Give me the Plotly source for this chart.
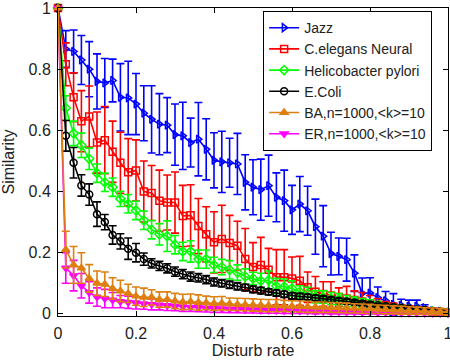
import plotly.graph_objects as go

x = [0.0, 0.02, 0.04, 0.06, 0.08, 0.10, 0.12, 0.14, 0.16, 0.18,
     0.20, 0.22, 0.24, 0.26, 0.28, 0.30, 0.32, 0.34, 0.36, 0.38,
     0.40, 0.42, 0.44, 0.46, 0.48, 0.50, 0.52, 0.54, 0.56, 0.58,
     0.60, 0.62, 0.64, 0.66, 0.68, 0.70, 0.72, 0.74, 0.76, 0.78,
     0.80, 0.82, 0.84, 0.86, 0.88, 0.90, 0.92, 0.94, 0.96, 0.98, 1.0]

jazz = [1.0, 0.866, 0.858, 0.83, 0.80, 0.76, 0.755, 0.763, 0.708, 0.706,
        0.686, 0.656, 0.636, 0.62, 0.617, 0.586, 0.582, 0.56, 0.571, 0.538,
        0.502, 0.497, 0.494, 0.49, 0.43, 0.414, 0.406, 0.419, 0.381, 0.37,
        0.34, 0.359, 0.337, 0.285, 0.254, 0.197, 0.188, 0.177, 0.133, 0.067,
        0.068, 0.053, 0.043, 0.031, 0.028, 0.025, 0.025, 0.02, 0.01, 0.008, 0.005]
jazz_err = [0.0, 0.06, 0.07, 0.08, 0.09, 0.09, 0.08, 0.07, 0.11, 0.12,
            0.10, 0.09, 0.11, 0.10, 0.09, 0.10, 0.11, 0.08, 0.12, 0.10,
            0.09, 0.10, 0.08, 0.10, 0.09, 0.09, 0.10, 0.10, 0.08, 0.10,
            0.08, 0.09, 0.08, 0.09, 0.10, 0.07, 0.06, 0.07, 0.06, 0.05,
            0.05, 0.035, 0.03, 0.035, 0.02, 0.02, 0.02, 0.01, 0.01, 0.008, 0.005]

celegans = [1.0, 0.816, 0.708, 0.63, 0.645, 0.56, 0.568, 0.53, 0.494, 0.463,
            0.469, 0.40, 0.395, 0.37, 0.364, 0.364, 0.32, 0.322, 0.287, 0.26,
            0.234, 0.245, 0.232, 0.223, 0.179, 0.153, 0.16, 0.144, 0.12, 0.12,
            0.116, 0.108, 0.087, 0.072, 0.065, 0.06, 0.055, 0.05, 0.045, 0.04,
            0.035, 0.03, 0.025, 0.02, 0.018, 0.015, 0.012, 0.01, 0.008, 0.006, 0.004]
celegans_err = [0.0, 0.07, 0.08, 0.10, 0.10, 0.10, 0.11, 0.10, 0.10, 0.11,
                0.10, 0.10, 0.09, 0.10, 0.09, 0.10, 0.10, 0.10, 0.09, 0.09,
                0.10, 0.11, 0.09, 0.08, 0.10, 0.08, 0.09, 0.07, 0.09, 0.09,
                0.07, 0.08, 0.05, 0.05, 0.04, 0.045, 0.03, 0.04, 0.03, 0.03,
                0.025, 0.02, 0.015, 0.015, 0.01, 0.01, 0.01, 0.008, 0.006, 0.005, 0.004]

helico = [1.0, 0.673, 0.59, 0.551, 0.507, 0.46, 0.43, 0.414, 0.376, 0.36,
          0.338, 0.306, 0.275, 0.26, 0.254, 0.226, 0.204, 0.204, 0.179, 0.179,
          0.16, 0.153, 0.144, 0.135, 0.122, 0.116, 0.108, 0.11, 0.091, 0.089,
          0.083, 0.072, 0.067, 0.056, 0.055, 0.05, 0.048, 0.042, 0.04, 0.035,
          0.032, 0.028, 0.022, 0.02, 0.017, 0.014, 0.012, 0.01, 0.008, 0.006, 0.004]
helico_err = [0.0, 0.04, 0.04, 0.04, 0.035, 0.03, 0.03, 0.03, 0.025, 0.03,
              0.03, 0.03, 0.03, 0.035, 0.05, 0.03, 0.03, 0.035, 0.03, 0.03,
              0.025, 0.025, 0.03, 0.025, 0.025, 0.02, 0.025, 0.03, 0.025, 0.025,
              0.025, 0.02, 0.02, 0.02, 0.02, 0.02, 0.018, 0.018, 0.015, 0.015,
              0.015, 0.012, 0.012, 0.01, 0.01, 0.008, 0.008, 0.006, 0.005, 0.005, 0.004]

ecoli = [1.0, 0.582, 0.494, 0.42, 0.39, 0.326, 0.30, 0.258, 0.237, 0.213,
         0.20, 0.179, 0.165, 0.157, 0.149, 0.138, 0.13, 0.122, 0.118, 0.112,
         0.104, 0.10, 0.095, 0.09, 0.086, 0.08, 0.076, 0.072, 0.068, 0.064,
         0.059, 0.057, 0.055, 0.052, 0.049, 0.046, 0.043, 0.04, 0.037, 0.034,
         0.031, 0.028, 0.025, 0.022, 0.019, 0.017, 0.014, 0.012, 0.009, 0.007, 0.004]
ecoli_err = [0.0, 0.05, 0.05, 0.035, 0.035, 0.04, 0.025, 0.03, 0.025, 0.035,
             0.03, 0.02, 0.015, 0.015, 0.015, 0.015, 0.015, 0.015, 0.014, 0.013,
             0.013, 0.012, 0.012, 0.012, 0.011, 0.011, 0.011, 0.01, 0.01, 0.01,
             0.01, 0.01, 0.009, 0.009, 0.009, 0.008, 0.008, 0.008, 0.007, 0.007,
             0.007, 0.006, 0.006, 0.006, 0.005, 0.005, 0.005, 0.004, 0.004, 0.004, 0.003]

ba = [1.0, 0.21, 0.16, 0.15, 0.116, 0.10, 0.097, 0.083, 0.075, 0.067,
      0.058, 0.054, 0.054, 0.047, 0.047, 0.042, 0.039, 0.04, 0.037, 0.036,
      0.034, 0.035, 0.032, 0.031, 0.03, 0.029, 0.028, 0.027, 0.027, 0.026,
      0.025, 0.024, 0.023, 0.022, 0.022, 0.021, 0.02, 0.019, 0.018, 0.017,
      0.016, 0.015, 0.014, 0.013, 0.012, 0.011, 0.01, 0.009, 0.008, 0.007, 0.006]
ba_err = [0.0, 0.06, 0.06, 0.05, 0.045, 0.04, 0.04, 0.035, 0.035, 0.03,
          0.03, 0.03, 0.025, 0.025, 0.025, 0.025, 0.025, 0.025, 0.025, 0.022,
          0.022, 0.022, 0.02, 0.02, 0.02, 0.02, 0.02, 0.02, 0.02, 0.018,
          0.018, 0.018, 0.018, 0.017, 0.017, 0.016, 0.016, 0.016, 0.015, 0.015,
          0.015, 0.014, 0.014, 0.013, 0.013, 0.012, 0.012, 0.011, 0.011, 0.01, 0.01]

er = [1.0, 0.15, 0.125, 0.092, 0.07, 0.055, 0.05, 0.045, 0.04, 0.038,
      0.036, 0.033, 0.031, 0.029, 0.027, 0.025, 0.023, 0.022, 0.021, 0.019,
      0.018, 0.017, 0.016, 0.015, 0.014, 0.013, 0.012, 0.012, 0.011, 0.01,
      0.01, 0.009, 0.009, 0.008, 0.008, 0.007, 0.007, 0.006, 0.006, 0.005,
      0.005, 0.004, 0.004, 0.004, 0.003, 0.003, 0.003, 0.002, 0.002, 0.002, 0.001]
er_err = [0.0, 0.05, 0.05, 0.04, 0.035, 0.03, 0.03, 0.025, 0.02, 0.02,
          0.02, 0.018, 0.018, 0.016, 0.016, 0.015, 0.015, 0.014, 0.014, 0.013,
          0.013, 0.012, 0.012, 0.011, 0.011, 0.01, 0.01, 0.01, 0.009, 0.009,
          0.009, 0.008, 0.008, 0.008, 0.007, 0.007, 0.007, 0.006, 0.006, 0.006,
          0.005, 0.005, 0.005, 0.004, 0.004, 0.004, 0.003, 0.003, 0.003, 0.002, 0.002]

names = ["Jazz", "C.elegans Neural", "Helicobacter pylori", "E.Coli",
         "BA,n=1000,&lt;k&gt;=10", "ER,n=1000,&lt;k&gt;=10"]
tick_vals = [0, 0.2, 0.4, 0.6, 0.8, 1]
tick_text = ["0", "0.2", "0.4", "0.6", "0.8", "1"]

series = [
    # (values, errors, name, color, symbol, legend rank)
    (jazz, jazz_err, names[0], "#0000FF", "triangle-right-open", 1),
    (celegans, celegans_err, names[1], "#FF0000", "square-open", 2),
    (helico, helico_err, names[2], "#00FF00", "diamond-open", 3),
    (ecoli, ecoli_err, names[3], "#000000", "circle-open", 4),
    (er, er_err, names[5], "#FF00FF", "triangle-down", 6),
    (ba, ba_err, names[4], "#DE7F10", "triangle-up", 5),
]

fig = go.Figure()
for vals, errs, name, color, sym, rank in series:
    fig.add_trace(go.Scatter(
        x=x, y=vals, name=name, mode="lines+markers",
        line=dict(color=color, width=1.6),
        marker=dict(symbol=sym, size=7, color=color, line=dict(color=color, width=1.5)),
        error_y=dict(type="data", array=errs, visible=True, color=color,
                     thickness=1.6, width=4),
        legendrank=rank, cliponaxis=False,
    ))

font_family = "Arial"
fig.update_layout(
    width=450, height=362,
    margin=dict(l=58, r=2, t=8, b=46, autoexpand=False),
    paper_bgcolor="white", plot_bgcolor="white",
    font=dict(family=font_family, size=16, color="#222222"),
    showlegend=True,
    legend=dict(x=0.526, y=0.99, xanchor="left", yanchor="top",
                bgcolor="white", bordercolor="black", borderwidth=1,
                font=dict(family=font_family, size=14, color="#222222"),
                tracegroupgap=0, itemwidth=30),
)
fig.update_xaxes(
    range=[0, 1], tickvals=tick_vals, ticktext=tick_text,
    ticks="inside", ticklen=5, tickcolor="black", tickwidth=1,
    showline=True, linecolor="black", linewidth=1, mirror="allticks",
    showgrid=False, zeroline=False, automargin=False,
    tickfont=dict(size=16), ticklabeloverflow="allow",
    title=dict(text="Disturb rate", font=dict(size=16), standoff=0),
    ticklabelstandoff=3,
)
fig.update_yaxes(
    range=[-0.007, 1.0], tickvals=tick_vals, ticktext=tick_text,
    ticks="inside", ticklen=5, tickcolor="black", tickwidth=1,
    showline=True, linecolor="black", linewidth=1, mirror="allticks",
    showgrid=False, zeroline=False, automargin=False,
    tickfont=dict(size=16), ticklabeloverflow="allow",
    title=dict(text="Similarity", font=dict(size=16), standoff=14),
    ticklabelstandoff=3,
)

fig.write_html(
    "out.html",
    config={"displayModeBar": False},
    post_script="document.body.style.margin='0';document.body.style.padding='0';",
)
